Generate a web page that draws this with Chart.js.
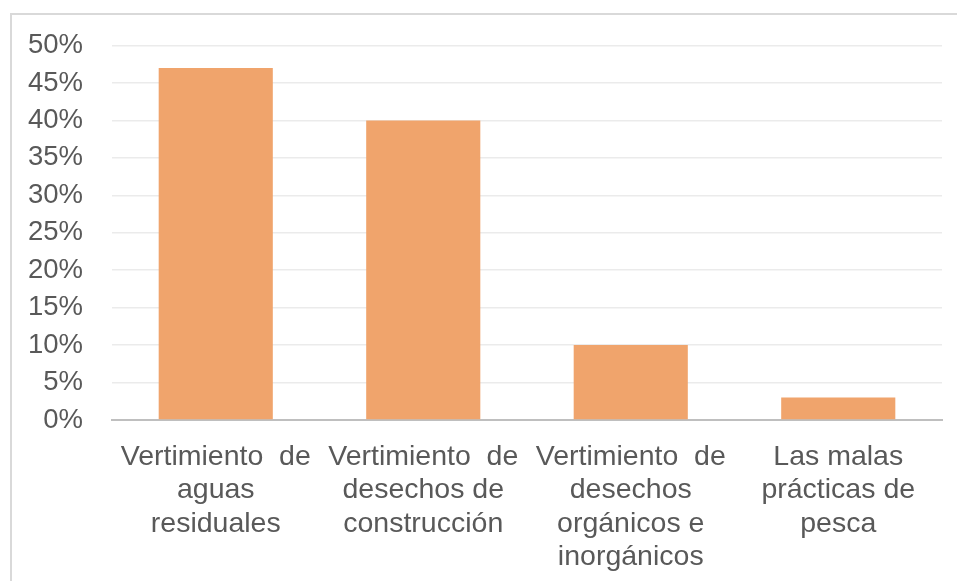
<!DOCTYPE html>
<html><head><meta charset="utf-8">
<script src="https://cdn.jsdelivr.net/npm/chart.js@4/dist/chart.umd.min.js"></script>
<style>
html,body{margin:0;padding:0;background:#fff;}
#wrap{position:relative;width:957px;height:581px;}
#c{position:absolute;left:0;top:0;}
#frame{position:absolute;left:10px;top:13px;right:0;bottom:0;border-top:2px solid #d9d9d9;border-left:2px solid #d9d9d9;pointer-events:none;}
</style></head>
<body>
<div id="wrap"><canvas id="c" width="957" height="581"></canvas><div id="frame"></div></div>
<script>
const categories = [
  ["Vertimiento  de", "aguas", "residuales"],
  ["Vertimiento  de", "desechos de", "construcción"],
  ["Vertimiento  de", "desechos", "orgánicos e", "inorgánicos"],
  ["Las malas", "prácticas de", "pesca"]
];
const values = [47, 40, 10, 3];
const yTicks = [0, 5, 10, 15, 20, 25, 30, 35, 40, 45, 50];

const FONT = "'Liberation Sans', Arial, sans-serif";
new Chart(document.getElementById('c'), {
  type: 'bar',
  data: {
    labels: categories,
    datasets: [{ data: values, backgroundColor: '#F0A46C', borderWidth: 0, barPercentage: 0.55, categoryPercentage: 1 }]
  },
  options: {
    responsive: false,
    animation: false,
    layout: { padding: { top: 44, right: 15, left: 0, bottom: 0 } },
    plugins: { legend: { display: false }, tooltip: { enabled: false } },
    scales: {
      x: {
        grid: { display: false, drawTicks: false },
        border: { display: true, color: '#bfbfbf', width: 2 },
        ticks: { color: '#595959', font: { family: FONT, size: 28.5, lineHeight: 1.16 }, padding: 21, maxRotation: 0, minRotation: 0, autoSkip: false },
        afterFit: s => { s.height = 161; }
      },
      y: {
        min: 0, max: 50,
        afterBuildTicks: s => { s.ticks = yTicks.map(v => ({ value: v })); },
        grid: { color: '#ebebeb', lineWidth: 1.5, drawTicks: false },
        border: { display: false },
        ticks: { color: '#595959', font: { family: FONT, size: 27.5 }, padding: 29, callback: v => v + '%' },
        afterFit: s => { s.width = 112; }
      }
    }
  }
});
</script>
</body></html>
